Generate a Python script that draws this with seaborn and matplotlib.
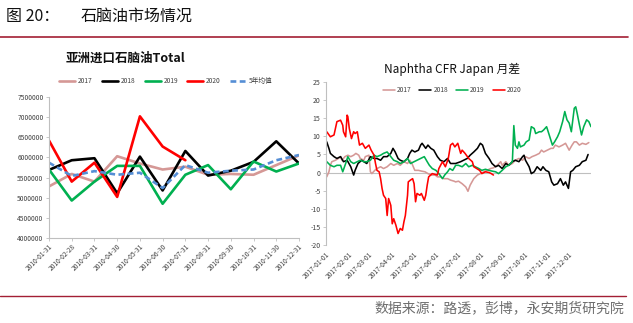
import numpy as np
import pandas as pd
import matplotlib
matplotlib.use("Agg")
import matplotlib.pyplot as plt
import matplotlib.dates as mdates
from matplotlib.lines import Line2D
import seaborn as sns

sns.set_theme(style="white")
plt.rcParams["font.family"] = ["Noto Sans CJK SC", "DejaVu Sans"]
plt.rcParams["axes.unicode_minus"] = False

# ---------------- left chart data ----------------
months = ["2010-01-31", "2010-02-28", "2010-03-31", "2010-04-30", "2010-05-31", "2010-06-30",
          "2010-07-31", "2010-08-31", "2010-09-30", "2010-10-31", "2010-11-30", "2010-12-31"]
imp_2017 = [5280000, 5590000, 5400000, 6030000, 5850000, 5700000, 5770000, 5570000, 5590000, 5570000, 5810000, 6050000]
imp_2018 = [5690000, 5930000, 5980000, 5110000, 6020000, 5180000, 6160000, 5550000, 5670000, 5890000, 6400000, 5850000]
imp_2019 = [5700000, 4930000, 5400000, 5790000, 5790000, 4850000, 5570000, 5810000, 5210000, 5900000, 5650000, 5850000]
imp_2020 = [6420000, 5400000, 5870000, 5020000, 7020000, 6270000, 5930000]
imp_avg5 = [5870000, 5540000, 5660000, 5570000, 5620000, 5240000, 5810000, 5620000, 5670000, 5700000, 5930000, 6060000]
left_series = ["2017", "2018", "2019", "2020", "5年均值"]
left_yticks = [4000000, 4500000, 5000000, 5500000, 6000000, 6500000, 7000000, 7500000]

# ---------------- right chart data (day of year, value) ----------------
d2017 = [1, 4, 6, 8, 13, 17, 20, 22, 26, 30, 34, 38, 41, 45, 47, 52, 54, 59, 61, 63, 67, 70, 75, 79, 84, 89,
         93, 98, 102, 107, 112, 115, 118, 122, 127, 131, 136, 140, 145, 150, 153, 157, 162, 167, 171, 176,
         178, 182, 187, 192, 195, 198, 203, 208, 212, 217, 221, 226, 230, 235, 240, 242, 247, 251, 256, 260,
         265, 270, 274, 279, 283, 288, 293, 296, 299, 304, 309, 312, 315, 320, 325, 329, 334, 338, 341, 344,
         348, 352, 357, 361]
v2017 = [-1.2, 0.2, 2.0, 3.0, 3.4, 3.9, 4.4, 3.4, 4.4, 4.8, 4.4, 4.8, 5.3, 4.8, 3.9, 3.4, 4.4, 4.8, 0.2, -0.3,
         0.6, 1.1, 1.6, 1.1, 1.6, 2.5, 2.0, 2.5, 2.0, 3.0, 2.5, 3.4, 2.5, 0.6, 0.6, 0.4, 0.2, -0.3, -0.7, -0.7,
         -1.2, -1.2, -1.7, -1.7, -2.1, -2.4, -2.6, -2.4, -3.1, -4.0, -5.2, -3.5, -1.7, -0.7, -0.3, 0.2, 0.6,
         1.1, 1.3, 2.0, 3.0, 2.0, 3.0, 2.0, 2.5, 3.4, 3.9, 3.4, 4.4, 3.9, 4.4, 4.8, 5.3, 6.2, 5.7, 6.2, 6.7,
         6.7, 7.6, 7.1, 7.6, 8.1, 6.2, 7.6, 8.5, 8.5, 7.6, 8.1, 7.8, 8.3]

d2018 = [1, 4, 6, 11, 15, 20, 24, 29, 34, 38, 40, 44, 49, 52, 56, 61, 66, 70, 75, 79, 84, 89, 92, 95, 99, 102,
         107, 112, 115, 118, 122, 127, 130, 132, 137, 140, 144, 148, 153, 157, 162, 167, 171, 176, 178, 185,
         189, 194, 198, 203, 208, 212, 215, 219, 224, 228, 233, 237, 242, 247, 251, 256, 260, 265, 270, 272,
         274, 279, 282, 286, 290, 295, 298, 302, 306, 310, 313, 318, 322, 326, 329, 333, 336, 339, 343, 348,
         352, 357, 360]
v2018 = [8.5, 6.7, 5.3, 4.4, 3.9, 4.4, 3.0, 3.4, 1.6, -0.7, 0.6, 2.5, 3.4, 3.0, 2.5, 4.4, 3.9, 3.9, 3.4, 4.4,
         4.4, 5.3, 6.7, 5.7, 3.9, 3.4, 3.0, 3.9, 5.3, 6.2, 5.7, 6.2, 7.6, 8.1, 6.7, 7.6, 6.7, 6.2, 4.4, 3.4,
         3.0, 3.9, 2.5, 2.5, 2.5, 3.0, 3.4, 3.9, 4.8, 5.7, 6.7, 8.1, 7.6, 5.3, 3.9, 2.5, 1.6, 2.0, 1.1, 2.5,
         2.0, 3.0, 3.4, 3.0, 4.4, 4.8, 3.4, 1.6, -0.3, 0.2, 1.6, 0.6, 1.6, 0.6, 0.2, -2.6, -3.5, -3.1, -1.7,
         -3.5, -2.6, -4.4, 0.2, 0.6, 1.6, 2.0, 3.0, 3.4, 5.0]

d2019 = [1, 6, 11, 15, 20, 23, 27, 30, 34, 38, 43, 47, 52, 56, 61, 66, 70, 75, 79, 84, 89, 93, 98, 102, 107,
         112, 116, 121, 125, 130, 135, 139, 142, 146, 151, 155, 160, 163, 167, 170, 174, 177, 178, 182, 187,
         192, 196, 201, 205, 210, 214, 219, 224, 228, 233, 237, 242, 247, 251, 256, 258, 260, 263, 265, 267,
         272, 275, 279, 282, 286, 288, 293, 296, 299, 303, 306, 311, 314, 318, 321, 325, 328, 331, 334, 337,
         341, 343, 345, 348, 351, 354, 358, 361, 364]
v2019 = [3.0, 2.0, 1.6, 2.0, 2.0, 0.2, 2.5, 4.4, 3.0, 2.5, 3.0, 3.4, 3.0, 3.0, 3.4, 4.8, 4.4, 4.8, 5.3, 5.7,
         4.4, 3.4, 3.0, 2.5, 3.0, 3.9, 2.5, 3.0, 3.4, 3.9, 4.4, 3.0, 2.0, 1.1, 0.6, -0.3, -1.7, -0.7, 0.2,
         1.1, 0.6, 1.6, 2.0, 2.0, 1.6, 2.5, 1.6, 2.0, 1.6, 1.1, 0.6, 0.9, 0.6, 0.4, 0.2, -0.3, 0.6, 1.6, 2.0,
         3.0, 13.0, 7.6, 6.7, 8.5, 7.1, 7.6, 8.5, 9.0, 12.7, 12.2, 10.8, 11.3, 11.3, 11.8, 12.7, 10.8, 7.6,
         8.5, 9.9, 11.3, 14.1, 16.9, 14.6, 13.7, 11.3, 17.8, 18.2, 16.4, 13.3, 10.4, 12.7, 14.6, 14.1, 12.7]

d2020 = [1, 6, 11, 15, 20, 23, 24, 27, 29, 30, 32, 35, 38, 40, 43, 46, 50, 54, 59, 62, 66, 68, 70, 73, 75, 77,
         79, 82, 84, 86, 89, 91, 93, 96, 99, 102, 105, 107, 109, 112, 113, 116, 119, 121, 123, 125, 129, 131,
         135, 137, 139, 141, 146, 151, 153, 155, 160, 164, 168, 171, 174, 177, 181, 185, 187, 191, 196, 201,
         203, 207, 211, 214, 219, 224, 227, 230]
v2020 = [11.3, 9.9, 10.4, 14.1, 14.5, 13.1, 11.3, 9.9, 15.9, 15.5, 12.2, 9.4, 11.3, 10.8, 11.3, 7.6, 8.1, 6.7,
         7.6, 6.2, 4.8, 2.5, 0.6, 0.2, -1.7, -4.4, -6.3, -7.2, -11.9, -7.2, -9.1, -14.2, -12.8, -14.6, -16.9,
         -15.5, -16.0, -13.7, -11.9, -6.3, -2.6, -2.1, -1.7, -3.1, -8.1, -5.8, -6.3, -5.8, -7.7, -6.3, -3.5,
         -1.2, -0.3, -0.6, -0.7, 1.1, 3.0, 1.6, 3.9, 7.6, 8.1, 7.1, 8.1, 5.3, 6.2, 5.3, 3.9, 3.0, 1.6, 1.1,
         0.6, -0.3, 0.2, 0.0, -0.3, -0.7]

right_series = ["2017", "2018", "2019", "2020"]
right_yticks = [-20, -15, -10, -5, 0, 5, 10, 15, 20, 25]
month_ticks = ["2017-01-01", "2017-02-01", "2017-03-01", "2017-04-01", "2017-05-01", "2017-06-01",
               "2017-07-01", "2017-08-01", "2017-09-01", "2017-10-01", "2017-11-01", "2017-12-01"]

# ---------------- styles ----------------
c2017 = "#D59896"
c2018 = "#000000"
c2019 = "#00B050"
c2020 = "#FF0000"
cavg = "#558ED5"
grid_c = "#BFBFBF"
tick_c = "#404040"

W, H = 633, 323
fig = plt.figure(figsize=(W / 100, H / 100), dpi=100)

# header
fig.text(6 / W, 1 - 16 / H, "图 20：", fontsize=11.5, color="#111111", va="center", ha="left")
fig.text(81 / W, 1 - 16 / H, "石脑油市场情况", fontsize=11.5, color="#111111", va="center", ha="left")
fig.add_artist(Line2D([0 / W, 628 / W], [1 - 37 / H, 1 - 37 / H], color="#A31F34", lw=1.2))
fig.add_artist(Line2D([0 / W, 626 / W], [1 - 296 / H, 1 - 296 / H], color="#A31F34", lw=1.0))
fig.text(624 / W, 1 - 308 / H, "数据来源：路透，彭博，永安期货研究院", fontsize=10, color="#6E6E6E",
         va="center", ha="right")

# ---------------- left chart ----------------
ax1 = fig.add_axes([49 / W, (H - 238) / H, 250 / W, 141 / H])
rows = []
for name, vals in zip(left_series, [imp_2017, imp_2018, imp_2019, imp_2020, imp_avg5]):
    for i, v in enumerate(vals):
        rows.append({"idx": i, "value": v, "series": name})
df1 = pd.DataFrame(rows)
pal1 = {"2017": c2017, "2018": c2018, "2019": c2019, "2020": c2020, "5年均值": cavg}
dash1 = {"2017": "", "2018": "", "2019": "", "2020": "", "5年均值": (2.2, 1.3)}
sns.lineplot(data=df1, x="idx", y="value", hue="series", style="series", hue_order=left_series,
             style_order=left_series, palette=pal1, dashes=dash1, linewidth=1.9, sort=False,
             estimator=None, ax=ax1, legend=True)
ax1.set_xlim(0, len(months) - 1)
ax1.set_ylim(4000000, 7500000)
ax1.set_yticks(left_yticks)
ax1.set_yticklabels([str(v) for v in left_yticks])
ax1.set_xticks(range(len(months)))
ax1.set_xticklabels(months, rotation=45, ha="right", rotation_mode="anchor")
ax1.set_xlabel("")
ax1.set_ylabel("")
for s in ["top", "right"]:
    ax1.spines[s].set_visible(False)
for s in ["left", "bottom"]:
    ax1.spines[s].set_color(grid_c)
    ax1.spines[s].set_linewidth(0.8)
ax1.tick_params(axis="both", which="major", labelsize=4.8, colors=tick_c, length=2.5, width=0.6,
                color=grid_c, pad=1.5, bottom=True, left=True)
ax1.tick_params(axis="x", pad=1)
h, l = ax1.get_legend_handles_labels()
leg1 = ax1.legend(h, l, loc="center", bbox_to_anchor=(166 / W, 1 - 81 / H), bbox_transform=fig.transFigure,
                  ncol=5, frameon=False, fontsize=4.8, handlelength=2.4, columnspacing=1.4, handletextpad=0.4,
                  borderpad=0)
for t in leg1.get_texts():
    t.set_color(tick_c)
fig.text(125 / W, 1 - 58 / H, "亚洲进口石脑油Total", fontsize=9, fontweight="bold", color="#111111",
         ha="center", va="center")

# ---------------- right chart ----------------
ax2 = fig.add_axes([326 / W, (H - 244.7) / H, 265 / W, 162.4 / H])
base = pd.Timestamp("2017-01-01")
rows = []
for name, days, vals in zip(right_series, [d2017, d2018, d2019, d2020], [v2017, v2018, v2019, v2020]):
    for d, v in zip(days, vals):
        rows.append({"date": base + pd.Timedelta(days=d), "value": v, "series": name})
df2 = pd.DataFrame(rows)
pal2 = {"2017": c2017, "2018": c2018, "2019": c2019, "2020": c2020}
ax2.axhline(0, color=grid_c, lw=0.8, zorder=1)
sns.lineplot(data=df2, x="date", y="value", hue="series", hue_order=right_series, palette=pal2,
             linewidth=1.15, estimator=None, ax=ax2, legend=True)
ax2.set_xlim(pd.Timestamp("2017-01-01"), pd.Timestamp("2017-12-31"))
ax2.set_ylim(-20, 25)
ax2.set_yticks(right_yticks)
ax2.set_yticklabels([str(v) for v in right_yticks])
ax2.set_xticks(pd.to_datetime(month_ticks))
ax2.set_xticklabels(month_ticks, rotation=45, ha="right", rotation_mode="anchor")
ax2.set_xlabel("")
ax2.set_ylabel("")
for s in ["top", "right", "bottom"]:
    ax2.spines[s].set_visible(False)
ax2.spines["left"].set_color(grid_c)
ax2.spines["left"].set_linewidth(0.8)
ax2.tick_params(axis="y", labelsize=5, colors=tick_c, length=2.5, width=0.6, color=grid_c, pad=1.5, left=True)
ax2.tick_params(axis="x", labelsize=4.8, colors=tick_c, length=0, pad=4)
h, l = ax2.get_legend_handles_labels()
leg2 = ax2.legend(h, l, loc="center", bbox_to_anchor=(452 / W, 1 - 90 / H), bbox_transform=fig.transFigure,
                  ncol=4, frameon=False, fontsize=4.8, handlelength=1.8, columnspacing=1.2, handletextpad=0.3,
                  borderpad=0)
for t in leg2.get_texts():
    t.set_color(tick_c)
fig.text(452 / W, 1 - 69 / H, "Naphtha CFR Japan 月差", fontsize=8.5, color="#111111", ha="center", va="center")

fig.savefig("out.png", dpi=100)
